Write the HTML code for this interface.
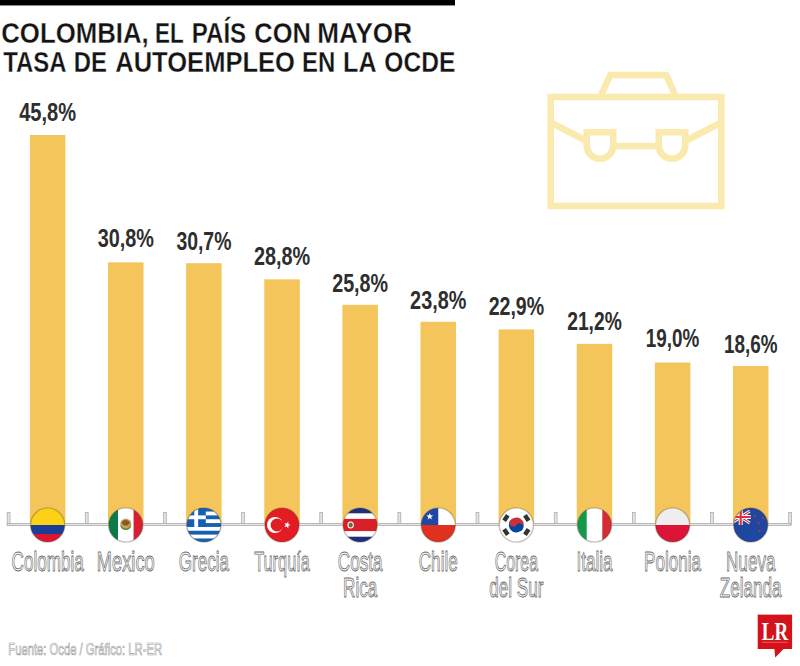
<!DOCTYPE html>
<html><head><meta charset="utf-8"><title>Colombia, el país con mayor tasa de autoempleo en la OCDE</title>
<style>
html,body{margin:0;padding:0;background:#fff;}
body{width:800px;height:666px;overflow:hidden;position:relative;}
svg{position:absolute;left:0;top:0;display:block}
</style></head>
<body>
<svg width="800" height="666" viewBox="0 0 800 666">
<defs><filter id="bl" x="-5%" y="-5%" width="110%" height="110%"><feGaussianBlur stdDeviation="0.7"/></filter><clipPath id="fc"><circle r="17.1"/></clipPath></defs>
<rect x="0" y="0" width="455" height="5" fill="#000"/>
<rect x="0" y="5" width="455" height="1" fill="#8a8a8a"/>
<g font-family="Liberation Sans, sans-serif" font-weight="bold" font-size="30" fill="#141414" stroke="#fff" stroke-width="0.3">
<text transform="translate(1.22,43) scale(0.8594,1)">COLOMBIA,</text>
<text transform="translate(155.03,43) scale(0.7500,1)">EL</text>
<text transform="translate(191.76,43) scale(0.8031,1)">PAÍS</text>
<text transform="translate(254.33,43) scale(0.8483,1)">CON</text>
<text transform="translate(317.27,43) scale(0.8705,1)">MAYOR</text>
<text transform="translate(3.21,72.2) scale(0.7976,1)">TASA</text>
<text transform="translate(73.68,72.2) scale(0.7956,1)">DE</text>
<text transform="translate(115.18,72.2) scale(0.8517,1)">AUTOEMPLEO</text>
<text transform="translate(302.08,72.2) scale(0.7973,1)">EN</text>
<text transform="translate(343.10,72.2) scale(0.8347,1)">LA</text>
<text transform="translate(384.37,72.2) scale(0.8191,1)">OCDE</text>
</g>
<g fill="#e4e4e4" stroke="#adadad" stroke-width="0.8">
<rect x="7.20" y="512.6" width="2.8" height="12"/>
<rect x="85.35" y="512.6" width="2.8" height="12"/>
<rect x="163.50" y="512.6" width="2.8" height="12"/>
<rect x="241.65" y="512.6" width="2.8" height="12"/>
<rect x="319.80" y="512.6" width="2.8" height="12"/>
<rect x="397.95" y="512.6" width="2.8" height="12"/>
<rect x="476.10" y="512.6" width="2.8" height="12"/>
<rect x="554.25" y="512.6" width="2.8" height="12"/>
<rect x="632.40" y="512.6" width="2.8" height="12"/>
<rect x="710.55" y="512.6" width="2.8" height="12"/>
<rect x="788.70" y="512.6" width="2.8" height="12"/>
<rect x="7.2" y="523.4" width="783.6" height="2.2"/>
</g>
<g fill="#F4C55B">
<rect x="29.90" y="135.01" width="35.5" height="388.99"/>
<rect x="108.02" y="262.36" width="35.5" height="261.64"/>
<rect x="186.14" y="263.21" width="35.5" height="260.79"/>
<rect x="264.26" y="279.34" width="35.5" height="244.66"/>
<rect x="342.38" y="304.81" width="35.5" height="219.19"/>
<rect x="420.50" y="321.79" width="35.5" height="202.21"/>
<rect x="498.62" y="329.43" width="35.5" height="194.57"/>
<rect x="576.74" y="343.86" width="35.5" height="180.14"/>
<rect x="654.86" y="362.54" width="35.5" height="161.46"/>
<rect x="732.98" y="365.94" width="35.5" height="158.06"/>
</g>
<g font-family="Liberation Sans, sans-serif" font-weight="bold" font-size="25" fill="#2e2e2e" text-anchor="middle">
<text transform="translate(47.65,120.50) scale(0.803,1)">45,8%</text>
<text transform="translate(125.77,247.00) scale(0.794,1)">30,8%</text>
<text transform="translate(203.89,250.00) scale(0.776,1)">30,7%</text>
<text transform="translate(282.01,265.00) scale(0.794,1)">28,8%</text>
<text transform="translate(360.13,291.60) scale(0.789,1)">25,8%</text>
<text transform="translate(438.25,309.10) scale(0.794,1)">23,8%</text>
<text transform="translate(516.37,315.00) scale(0.783,1)">22,9%</text>
<text transform="translate(594.49,330.00) scale(0.77,1)">21,2%</text>
<text transform="translate(672.61,347.35) scale(0.755,1)">19,0%</text>
<text transform="translate(750.73,352.60) scale(0.755,1)">18,6%</text>
</g>
<g font-family="Liberation Sans, sans-serif" font-size="27.5" fill="#ffffff" stroke="#6c6c6c" stroke-width="0.9" text-anchor="middle">
<text transform="translate(47.65,571.00) scale(0.6220,1)">Colombia</text>
<text transform="translate(125.77,571.00) scale(0.6655,1)">Mexico</text>
<text transform="translate(203.89,571.00) scale(0.6220,1)">Grecia</text>
<text transform="translate(282.01,571.00) scale(0.5940,1)">Turquía</text>
<text transform="translate(360.13,571.00) scale(0.6220,1)">Costa</text>
<text transform="translate(360.13,596.60) scale(0.6220,1)">Rica</text>
<text transform="translate(438.25,571.00) scale(0.6220,1)">Chile</text>
<text transform="translate(516.37,571.00) scale(0.5785,1)">Corea</text>
<text transform="translate(516.37,596.60) scale(0.6220,1)">del Sur</text>
<text transform="translate(594.49,571.00) scale(0.6220,1)">Italia</text>
<text transform="translate(672.61,571.00) scale(0.6220,1)">Polonia</text>
<text transform="translate(750.73,571.00) scale(0.6220,1)">Nueva</text>
<text transform="translate(750.73,596.60) scale(0.6220,1)">Zelanda</text>
</g>
<g transform="translate(47.65,525)"><g clip-path="url(#fc)"><rect x="-18" y="-18" width="36" height="18" fill="#FCD116"/><rect x="-18" y="0" width="36" height="9" fill="#1B3D9A"/><rect x="-18" y="9" width="36" height="9" fill="#DC1530"/></g><circle r="17.1" fill="none" stroke="rgba(70,55,40,0.3)" stroke-width="1.4"/></g>
<g transform="translate(125.77,525)"><g clip-path="url(#fc)"><rect x="-18" y="-18" width="36" height="36" fill="#fff"/><rect x="-18" y="-18" width="10.2" height="36" fill="#0A7A4A"/><rect x="7.8" y="-18" width="10.2" height="36" fill="#D81F32"/><circle r="5.6" cy="-0.8" fill="#C9A35E"/><path d="M-4.2,-2 A4.4,4.4 0 0 1 4.2,-2 L2,0.5 L-2,0.5 Z" fill="#8A5A26"/><path d="M-4.8,1 A5.2,5.2 0 0 0 4.8,1" fill="none" stroke="#5F8A3A" stroke-width="1.4"/></g><circle r="17.1" fill="none" stroke="rgba(70,55,40,0.3)" stroke-width="1.4"/></g>
<g transform="translate(203.89,525)"><g clip-path="url(#fc)"><rect x="-18" y="-18" width="36" height="36" fill="#1560B5"/><rect x="-18" y="-13.46" width="36" height="3.84" fill="#fff"/><rect x="-18" y="-5.77" width="36" height="3.84" fill="#fff"/><rect x="-18" y="1.92" width="36" height="3.84" fill="#fff"/><rect x="-18" y="9.61" width="36" height="3.84" fill="#fff"/><rect x="-18" y="-18" width="19.92" height="19.92" fill="#1560B5"/><rect x="-18" y="-9.61" width="19.92" height="3.84" fill="#fff"/><rect x="-9.61" y="-18" width="3.84" height="19.92" fill="#fff"/></g><circle r="17.1" fill="none" stroke="rgba(70,55,40,0.3)" stroke-width="1.4"/></g>
<g transform="translate(282.01,525)"><g clip-path="url(#fc)"><rect x="-18" y="-18" width="36" height="36" fill="#E31B23"/><circle cx="-7" r="8" fill="#fff"/><circle cx="-5" r="6.4" fill="#E31B23"/><polygon fill="#fff" points="8.80,0.00 6.37,0.85 6.31,3.42 4.75,1.38 2.29,2.12 3.75,0.00 2.29,-2.12 4.75,-1.38 6.31,-3.42 6.37,-0.85"/></g><circle r="17.1" fill="none" stroke="rgba(70,55,40,0.3)" stroke-width="1.4"/></g>
<g transform="translate(360.13,525)"><g clip-path="url(#fc)"><rect x="-18" y="-18" width="36" height="36" fill="#fff"/><rect x="-18" y="-18" width="36" height="6.3" fill="#1F2F7A"/><rect x="-18" y="11.7" width="36" height="6.3" fill="#1F2F7A"/><rect x="-18" y="-6.1" width="36" height="12.2" fill="#D7202A"/><ellipse cx="-9.5" cy="0" rx="3.2" ry="3.6" fill="#fff"/><ellipse cx="-9.5" cy="0" rx="2.2" ry="2.6" fill="#6a6a3a"/></g><circle r="17.1" fill="none" stroke="rgba(70,55,40,0.3)" stroke-width="1.4"/></g>
<g transform="translate(438.25,525)"><g clip-path="url(#fc)"><rect x="-18" y="-18" width="36" height="18" fill="#fff"/><rect x="-18" y="-18" width="18" height="18" fill="#1F47A8"/><rect x="-18" y="0" width="36" height="18" fill="#E0301E"/><polygon fill="#fff" points="-8.50,-12.10 -7.65,-9.67 -5.08,-9.61 -7.12,-8.05 -6.38,-5.59 -8.50,-7.05 -10.62,-5.59 -9.88,-8.05 -11.92,-9.61 -9.35,-9.67"/></g><circle r="17.1" fill="none" stroke="rgba(70,55,40,0.3)" stroke-width="1.4"/></g>
<g transform="translate(516.37,525)"><g clip-path="url(#fc)"><rect x="-18" y="-18" width="36" height="36" fill="#fff"/><g transform="rotate(33.7)"><path d="M-7.5,0 A7.5,7.5 0 0 1 7.5,0 Z" fill="#CD2E3A"/><path d="M-7.5,0 A7.5,7.5 0 0 0 7.5,0 Z" fill="#0047A0"/><circle cx="-3.75" r="3.75" fill="#CD2E3A"/><circle cx="3.75" r="3.75" fill="#0047A0"/></g><g fill="#333"><g transform="rotate(-146.3) translate(12.5,0)"><rect x="-2.2" y="-3.3" width="4.4" height="6.6"/></g><g transform="rotate(-33.7) translate(12.5,0)"><rect x="-2.2" y="-3.3" width="4.4" height="6.6"/></g><g transform="rotate(33.7) translate(12.5,0)"><rect x="-2.2" y="-3.3" width="4.4" height="6.6"/></g><g transform="rotate(146.3) translate(12.5,0)"><rect x="-2.2" y="-3.3" width="4.4" height="6.6"/></g></g></g><circle r="17.1" fill="none" stroke="rgba(70,55,40,0.3)" stroke-width="1.4"/></g>
<g transform="translate(594.49,525)"><g clip-path="url(#fc)"><rect x="-18" y="-18" width="36" height="36" fill="#fff"/><rect x="-18" y="-18" width="10.2" height="36" fill="#139A48"/><rect x="7.8" y="-18" width="10.2" height="36" fill="#D42B36"/></g><circle r="17.1" fill="none" stroke="rgba(70,55,40,0.3)" stroke-width="1.4"/></g>
<g transform="translate(672.61,525)"><g clip-path="url(#fc)"><rect x="-18" y="-18" width="36" height="18" fill="#EEEEEE"/><rect x="-18" y="0" width="36" height="18" fill="#DC1437"/></g><circle r="17.1" fill="none" stroke="rgba(70,55,40,0.3)" stroke-width="1.4"/></g>
<g transform="translate(750.73,525)"><g clip-path="url(#fc)"><rect x="-18" y="-18" width="36" height="36" fill="#1F47A0"/><g transform="translate(-10,-8)"><path d="M-9,-6 L9,6 M9,-6 L-9,6" stroke="#fff" stroke-width="3"/><path d="M-9,-6 L9,6 M9,-6 L-9,6" stroke="#E0303A" stroke-width="1.2"/><path d="M-10,0 H10 M0,-8 V8" stroke="#fff" stroke-width="4"/><path d="M-10,0 H10 M0,-8 V8" stroke="#E0303A" stroke-width="2.2"/></g><polygon fill="#E0303A" points="8.00,-3.40 8.35,-2.49 9.33,-2.43 8.57,-1.81 8.82,-0.87 8.00,-1.40 7.18,-0.87 7.43,-1.81 6.67,-2.43 7.65,-2.49"/><polygon fill="#E0303A" points="12.00,-8.40 12.35,-7.49 13.33,-7.43 12.57,-6.81 12.82,-5.87 12.00,-6.40 11.18,-5.87 11.43,-6.81 10.67,-7.43 11.65,-7.49"/><polygon fill="#E0303A" points="4.00,-10.40 4.35,-9.49 5.33,-9.43 4.57,-8.81 4.82,-7.87 4.00,-8.40 3.18,-7.87 3.43,-8.81 2.67,-9.43 3.65,-9.49"/><polygon fill="#E0303A" points="9.00,4.60 9.35,5.51 10.33,5.57 9.57,6.19 9.82,7.13 9.00,6.60 8.18,7.13 8.43,6.19 7.67,5.57 8.65,5.51"/></g><circle r="17.1" fill="none" stroke="rgba(70,55,40,0.3)" stroke-width="1.4"/></g>
<g fill="none" stroke="#FBEAAE" stroke-width="6.6" stroke-linejoin="miter" filter="url(#bl)"><rect x="550.7" y="97" width="170.6" height="109"/><path d="M600.3 97 L610.3 75 L666.2 75 L676 97"/><path d="M550.7 122.5 L586.7 141 M685.3 141 L721.3 122.5 M613.3 146 L658.7 146"/><path d="M586.7 132.3 L613.3 132.3 L613.3 145.5 A13.3 13.3 0 0 1 586.7 145.5 Z"/><path d="M658.7 132.3 L685.3 132.3 L685.3 145.5 A13.3 13.3 0 0 1 658.7 145.5 Z"/></g>
<g font-family="Liberation Sans, sans-serif" font-size="17" fill="#ffffff" stroke="#9a9a9a" stroke-width="0.7">
<text transform="translate(8.3,655) scale(0.662,1)">Fuente: Ocde / Gráfico: LR-ER</text>
</g>
<rect x="757.7" y="614.6" width="34.4" height="34.4" fill="#D3121B"/>
<polygon points="774.3,648 784.5,648 775.2,657.6" fill="#D3121B"/>
<rect x="762" y="641.8" width="25.5" height="0.9" fill="rgba(255,200,200,0.45)"/>
<text transform="translate(775,639.5) scale(0.77,1)" text-anchor="middle" font-family="Liberation Serif, serif" font-weight="bold" font-size="24.6" fill="#fff">LR</text>
</svg>
</body></html>
